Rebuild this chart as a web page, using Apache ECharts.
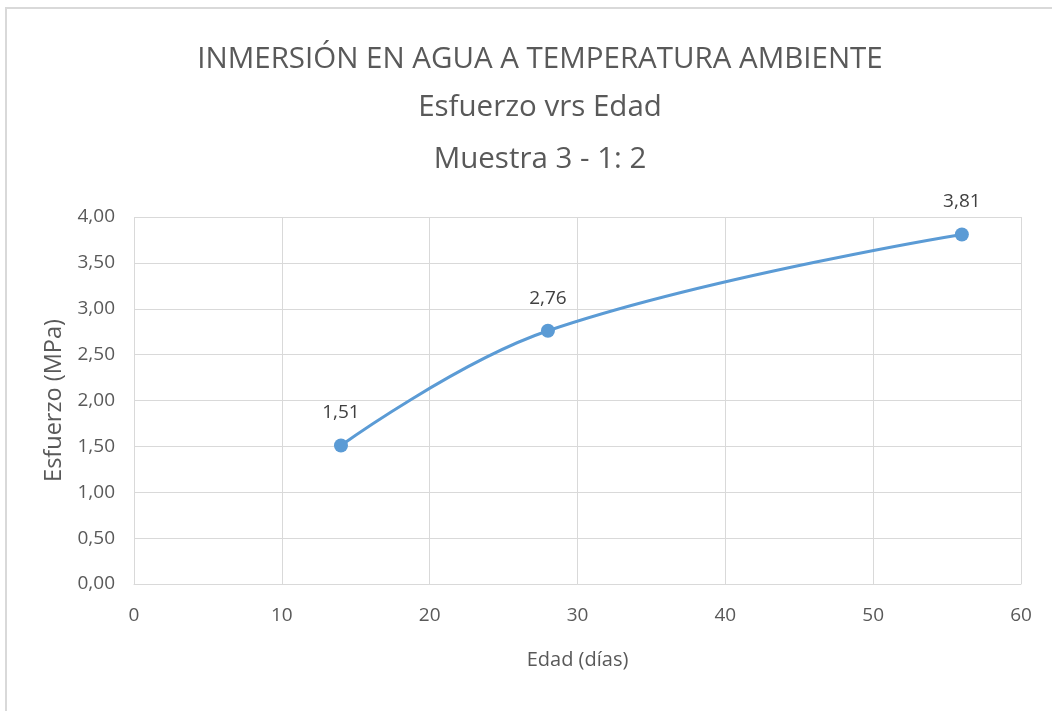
<!DOCTYPE html>
<html>
<head>
<meta charset="utf-8">
<script src="https://cdn.jsdelivr.net/npm/echarts@6/dist/echarts.min.js"></script>
<style>
  html, body { margin: 0; padding: 0; background: #fff; }
  #frame { position: absolute; left: 5px; top: 7px; width: 1060px; height: 720px; border: 2px solid #d9d9d9; box-sizing: border-box; }
  #chart { position: absolute; left: 0; top: 0; width: 1052px; height: 711px; }
</style>
</head>
<body>
<div id="frame"></div>
<div id="chart"></div>
<script>
// datos
const edades = [14, 28, 56];
const esfuerzos = [1.51, 2.76, 3.81];
const titulos = ['INMERSIÓN EN AGUA A TEMPERATURA AMBIENTE', 'Esfuerzo vrs Edad', 'Muestra 3 - 1: 2'];

const fontNarrow = '"Open Sans", sans-serif';
const comma = v => v.toFixed(2).replace('.', ',');

const chart = echarts.init(document.getElementById('chart'));
chart.setOption({
  animation: false,
  title: titulos.map((t, i) => ({
    text: t,
    left: 535,
    textAlign: 'center',
    top: [40, 88, 140][i],
    textStyle: { fontFamily: fontNarrow, fontWeight: 'normal', fontSize: 29.5, color: '#595959' }
  })),
  grid: { left: 134, right: 31, top: 217, bottom: 127 },
  xAxis: {
    type: 'value',
    min: 0, max: 60, interval: 10,
    name: 'Edad (días)',
    nameLocation: 'middle',
    nameGap: 66,
    nameTextStyle: { fontFamily: fontNarrow, fontSize: 20, color: '#595959' },
    axisLine: { show: true, lineStyle: { color: '#d9d9d9', width: 1 } },
    axisTick: { show: false },
    splitLine: { show: true, lineStyle: { color: '#d9d9d9', width: 1 } },
    axisLabel: { fontFamily: fontNarrow, fontSize: 19, color: '#595959', margin: 22 }
  },
  yAxis: {
    type: 'value',
    min: 0, max: 4, interval: 0.5,
    name: 'Esfuerzo (MPa)',
    nameLocation: 'middle',
    nameGap: 68,
    nameTextStyle: { fontFamily: '"Open Sans", sans-serif', fontSize: 23.5, color: '#595959' },
    axisLine: { show: false },
    axisTick: { show: false },
    splitLine: { show: true, lineStyle: { color: '#d9d9d9', width: 1 } },
    axisLabel: { fontFamily: fontNarrow, fontSize: 19, color: '#595959', margin: 19, formatter: comma }
  },
  series: [{
    type: 'line',
    data: edades.map((x, i) => [x, esfuerzos[i]]),
    smooth: 0.4,
    symbol: 'circle',
    symbolSize: 14,
    lineStyle: { color: '#5b9bd5', width: 3 },
    itemStyle: { color: '#5b9bd5' },
    label: {
      show: true,
      position: 'top',
      distance: 16,
      fontFamily: fontNarrow,
      fontSize: 19,
      color: '#404040',
      formatter: p => comma(p.value[1])
    }
  }]
});
</script>
</body>
</html>
